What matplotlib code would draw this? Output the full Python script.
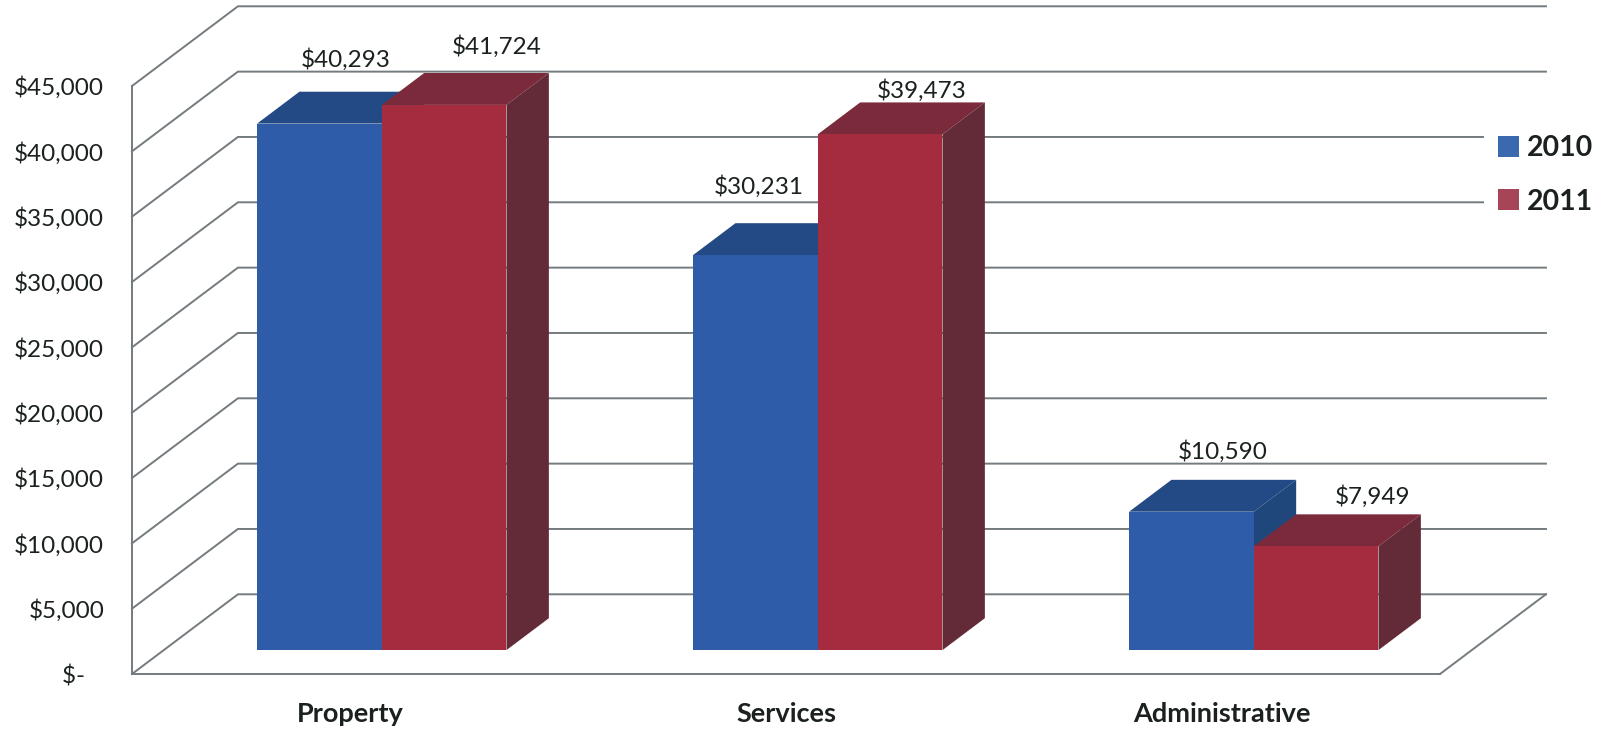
"""Clustered pseudo-3D column chart, 2010 vs 2011 by category."""
import matplotlib
matplotlib.use("Agg")
import matplotlib.pyplot as plt
from matplotlib.patches import Polygon

categories = ["Property", "Services", "Administrative"]
values_2010 = [40293, 30231, 10590]
values_2011 = [41724, 39473, 7949]
y_ticks = [0, 5000, 10000, 15000, 20000, 25000, 30000, 35000, 40000, 45000]

# (pixels right, pixels up) from the default label spot, one per bar
nudge_2010 = [(26, 64), (3, 69), (31, 60)]
nudge_2011 = [(53, 58), (41, 44), (56, 50)]

W, H = 1606, 735
FLOOR_DX, FLOOR_DY = 0.243, 6100   # full depth of the floor, in data units
BAR_W = 0.286
FRONT_GAP, BAR_DEPTH = 0.30, 0.40  # share of the floor depth
GRID = "#747b7e"
TEXT = "#1a211f"

plt.rcParams["font.family"] = ["Lato", "DejaVu Sans"]

fig = plt.figure(figsize=(W / 100, H / 100), dpi=100)
ax = fig.add_axes([132 / W, 1 - 674 / H, (1440 - 132) / W, (674 - 86) / H])
ax.set_xlim(-0.5, 2.5)
ax.set_ylim(0, 45000)


def money(v):
    return "$-   " if v == 0 else f"${v:,.0f}"


ax.set_yticks(y_ticks)
ax.set_yticklabels([money(v) for v in y_ticks], fontsize=17.5, color=TEXT)
ax.set_xticks(range(len(categories)))
ax.set_xticklabels(categories, fontsize=19.5, fontweight="bold", color=TEXT)
ax.tick_params(axis="y", length=0, pad=20)
ax.tick_params(axis="x", length=0, pad=20)
for side in ["top", "right"]:
    ax.spines[side].set_visible(False)
for side in ["left", "bottom"]:
    ax.spines[side].set_color(GRID)
    ax.spines[side].set_linewidth(1.4)

# side wall and back wall gridlines
x0, x1 = ax.get_xlim()
for v in y_ticks:
    ax.plot([x0, x0 + FLOOR_DX, x1 + FLOOR_DX],
            [v, v + FLOOR_DY, v + FLOOR_DY],
            color=GRID, lw=1.4, clip_on=False, zorder=1)
# right edge of the floor
ax.plot([x1, x1 + FLOOR_DX], [0, FLOOR_DY], color=GRID, lw=1.4, clip_on=False, zorder=1)


def draw_bars(xs, values, nudges, front, top, side, label, z):
    dx = FLOOR_DX * BAR_DEPTH
    dy = FLOOR_DY * BAR_DEPTH
    base = FLOOR_DY * FRONT_GAP
    shift = FLOOR_DX * FRONT_GAP
    for x, v, nudge in zip(xs, values, nudges):
        left = x + shift
        right = left + BAR_W
        y = base + v
        ax.add_patch(Polygon([(left, y), (right, y), (right + dx, y + dy), (left + dx, y + dy)],
                             closed=True, fc=top, ec="none", clip_on=False, zorder=z))
        ax.add_patch(Polygon([(right, base), (right + dx, base + dy), (right + dx, y + dy), (right, y)],
                             closed=True, fc=side, ec="none", clip_on=False, zorder=z))
        ax.annotate(f"${v:,.0f}", (left + BAR_W / 2, y), xytext=nudge,
                    textcoords="offset pixels", ha="center", va="center",
                    fontsize=17.5, color=TEXT, zorder=10, annotation_clip=False)
    bars = ax.bar([x + shift for x in xs], values, width=BAR_W, bottom=base, align="edge",
                  color=front, label=label, clip_on=False, zorder=z + 0.5)
    return bars


positions = list(range(len(categories)))
draw_bars([p - BAR_W for p in positions], values_2010, nudge_2010,
          "#2e5ca9", "#234a84", "#20477c", "2010", 3)
draw_bars(positions, values_2011, nudge_2011,
          "#a52b3f", "#7b2a3b", "#632a38", "2011", 4)

# white legend box cuts the gridlines short, as in the original
leg = ax.legend(loc="center left", bbox_to_anchor=(1484 / W, 1 - 175 / H),
                bbox_transform=fig.transFigure, frameon=True, facecolor="white", edgecolor="none",
                framealpha=1, fancybox=False, handlelength=0.72, handleheight=0.72,
                handletextpad=0.3, labelspacing=0.95, borderpad=0.5, borderaxespad=0,
                prop={"size": 20.5, "weight": "bold"}, labelcolor=TEXT)
leg.legend_handles[0].set_facecolor("#3b69b0")
leg.legend_handles[1].set_facecolor("#a64558")

fig.savefig("out.png", dpi=100)
